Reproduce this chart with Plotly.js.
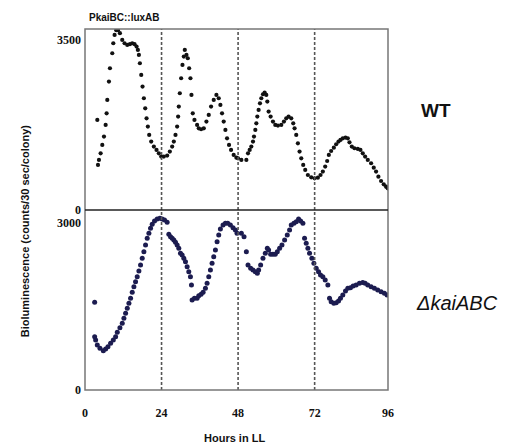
<!DOCTYPE html>
<html>
<head>
<meta charset="utf-8">
<script src="https://cdn.plot.ly/plotly-3.0.1.min.js"></script>
<style>html,body{margin:0;padding:0;background:#fff;}#chart{width:505px;height:443px;}</style>
</head>
<body>
<div id="chart"></div>
<script>
// Hours in LL and bioluminescence (counts/30 sec/colony)
const wtHours = [3.86,4.07,4.38,4.90,5.42,5.95,6.47,6.78,6.99,7.51,
  7.82,8.55,8.87,9.28,9.80,10.33,10.95,11.68,12.41,13.25,
  14.08,14.81,15.54,16.17,16.58,16.90,17.21,17.63,18.04,18.46,
  18.88,19.30,19.71,20.13,20.76,21.59,22.43,23.15,23.89,24.72,
  25.76,26.60,27.33,27.85,28.37,28.89,29.20,29.41,29.73,30.14,
  30.56,30.98,31.29,31.81,32.23,32.65,33.06,33.38,33.79,34.32,
  35.15,35.67,36.40,37.24,38.07,38.80,39.53,40.36,41.20,41.93,
  42.45,42.97,43.49,44.02,44.54,45.16,45.79,46.62,47.46,47.98,
  49.02,50.59,51.11,51.63,52.15,52.67,52.98,53.40,53.72,54.03,
  54.44,54.86,55.28,55.80,56.32,56.84,57.16,57.57,58.20,58.93,
  59.66,60.49,61.54,62.37,63.10,63.83,64.67,65.29,65.71,66.23,
  66.75,67.27,67.80,68.42,69.05,69.88,70.93,71.97,73.01,73.84,
  74.57,75.31,75.93,76.45,77.18,78.02,78.75,79.48,80.10,80.83,
  81.67,82.40,82.92,83.65,84.48,85.53,86.36,87.09,87.82,88.66,
  89.70,90.53,91.26,91.99,92.83,93.66,94.39,94.91];
const wtValues = [1854,927,1030,1167,1339,1511,1751,1991,2266,2644,
  2918,3227,3433,3605,3700,3700,3640,3502,3433,3399,
  3413,3433,3413,3365,3296,3193,3021,2781,2541,2300,
  2094,1888,1717,1545,1408,1305,1236,1167,1099,1099,
  1120,1202,1305,1408,1545,1717,1923,2129,2403,2712,
  2987,3159,3296,3193,3124,2918,2712,2369,1991,1854,
  1751,1682,1662,1682,1820,1957,2129,2266,2369,2300,
  2163,1991,1820,1648,1476,1339,1236,1133,1078,1064,
  1030,1030,1167,1236,1305,1408,1511,1648,1785,1923,
  2060,2197,2300,2383,2417,2369,2232,2026,1923,1820,
  1751,1737,1751,1820,1888,1923,1888,1785,1682,1545,
  1373,1202,1064,927,824,721,673,652,666,721,
  790,893,1009,1133,1215,1284,1353,1408,1442,1476,
  1490,1476,1394,1305,1271,1257,1236,1167,1099,1030,
  962,872,790,686,597,529,480,446];

const kaiHours = [3.03,3.03,3.34,3.86,4.69,5.74,6.47,7.20,8.03,8.87,
  9.60,10.12,10.95,11.68,12.20,12.73,13.25,13.77,14.29,14.81,
  15.33,15.85,16.37,16.90,17.42,17.94,18.46,18.98,19.50,20.03,
  20.55,21.07,21.80,22.63,23.47,24.20,24.93,25.76,26.28,26.81,
  27.33,27.85,28.37,28.89,29.41,29.94,30.46,30.98,31.50,32.02,
  32.54,33.06,33.38,33.58,34.32,35.15,35.67,36.40,37.03,37.76,
  38.28,38.80,39.32,39.84,40.36,40.89,41.41,41.93,42.45,43.28,
  44.02,44.75,45.58,46.41,47.15,47.66,49.02,49.86,50.59,51.11,
  51.94,52.67,53.40,54.03,54.44,55.07,55.80,56.53,57.16,57.57,
  58.20,58.93,59.66,60.29,61.02,61.75,62.58,63.42,64.14,64.67,
  65.50,66.23,66.96,67.59,68.32,68.84,69.36,69.88,70.40,71.13,
  71.76,72.49,73.22,73.84,74.57,75.31,76.14,76.66,77.18,78.02,
  78.75,79.48,80.10,80.83,81.67,82.40,83.23,84.07,85.01,86.05,
  87.09,87.82,88.66,89.70,90.74,91.78,92.83,93.87,94.71];
const kaiValues = [1572,956,897,807,747,705,735,777,837,897,
  956,1034,1117,1195,1285,1375,1464,1554,1644,1751,
  1853,1942,2032,2134,2241,2361,2480,2600,2720,2810,
  2899,2971,3030,3066,3078,3066,3048,3006,2791,2749,
  2720,2690,2648,2600,2541,2451,2421,2361,2301,2211,
  2121,2032,1883,1614,1644,1644,1691,1716,1751,1823,
  1913,2032,2152,2272,2390,2510,2659,2779,2887,2958,
  2989,2989,2958,2910,2869,2810,2810,2749,2480,2241,
  2182,2152,2121,2092,2152,2241,2361,2451,2541,2510,
  2433,2433,2433,2480,2541,2600,2690,2779,2869,2958,
  2989,3018,3066,3030,2989,2720,2630,2541,2451,2361,
  2272,2182,2121,2062,2032,1972,1883,1644,1584,1554,
  1566,1596,1644,1703,1775,1823,1835,1865,1883,1913,
  1925,1913,1883,1853,1823,1793,1763,1733,1703];

const xTickVals = [0,24,48,72,95];
const xTickText = ['0','24','48','72','96'];
const dayLines = [24,48,72];
const wtTickVals = [0,3500];
const kaiTickVals = [0,3000];
const panelLabels = ['WT','ΔkaiABC'];

const split = 180/361;
const tickFont = {family:'Liberation Serif', size:12, color:'#111', weight:'bold'};

const traces = [
  {x: wtHours, y: wtValues, xaxis:'x', yaxis:'y2', mode:'markers', type:'scatter',
   marker:{color:'#111111', size:4.2}, hoverinfo:'skip'},
  {x: kaiHours, y: kaiValues, xaxis:'x', yaxis:'y', mode:'markers', type:'scatter',
   marker:{color:'#1c1c50', size:5}, hoverinfo:'skip'}
];

const shapes = dayLines.map(d => ({type:'line', xref:'x', yref:'paper', x0:d, x1:d, y0:0, y1:1,
  line:{color:'#555', width:1.6, dash:'3px,2px'}}));
shapes.push({type:'rect', xref:'paper', yref:'paper', x0:0, x1:1, y0:0, y1:1, line:{color:'#777', width:1.5}});
shapes.push({type:'line', xref:'paper', yref:'paper', x0:0, x1:1, y0:split, y1:split, line:{color:'#222', width:1.5}});

const layout = {
  width:505, height:443,
  margin:{l:85, r:117, t:29, b:53},
  paper_bgcolor:'#fff', plot_bgcolor:'#fff',
  showlegend:false,
  xaxis:{range:[0,95], tickvals:xTickVals, ticktext:xTickText, showgrid:false, zeroline:false,
    showline:false, ticks:'', tickfont:tickFont, ticklabelstandoff:14, anchor:'y'},
  yaxis:{domain:[0,split], range:[0,3227], tickvals:kaiTickVals, showgrid:false, zeroline:false,
    showline:false, ticks:'', tickfont:tickFont, ticklabelstandoff:3},
  yaxis2:{domain:[split,1], range:[0,3726], tickvals:wtTickVals, showgrid:false, zeroline:false,
    showline:false, ticks:'', tickfont:tickFont, ticklabelstandoff:3},
  shapes: shapes,
  annotations:[
    {text:'PkaiBC::luxAB', xref:'paper', yref:'paper', x:0.132, y:1.033, showarrow:false,
     font:{family:'Liberation Sans', size:10, color:'#111', weight:'bold'}, xanchor:'center', yanchor:'middle'},
    {text:'Bioluminescence (counts/30 sec/colony)', xref:'paper', yref:'paper', x:-0.198, y:0.44, textangle:-90,
     showarrow:false, font:{family:'Liberation Sans', size:11, color:'#111', weight:'bold'}, xanchor:'center', yanchor:'middle'},
    {text:'Hours in LL', xref:'paper', yref:'paper', x:0.495, y:-0.133, showarrow:false,
     font:{family:'Liberation Sans', size:11, color:'#111', weight:'bold'}, xanchor:'center', yanchor:'middle'},
    {text:panelLabels[0], xref:'paper', yref:'paper', x:1.16, y:0.775, showarrow:false,
     font:{family:'Liberation Sans', size:19, color:'#111', weight:'bold'}, xanchor:'center', yanchor:'middle'},
    {text:'<i>'+panelLabels[1]+'</i>', xref:'paper', yref:'paper', x:1.228, y:0.24, showarrow:false,
     font:{family:'Liberation Sans', size:20, color:'#111'}, xanchor:'center', yanchor:'middle'}
  ]
};

Plotly.newPlot('chart', traces, layout, {staticPlot:true, displayModeBar:false});
</script>
</body>
</html>
